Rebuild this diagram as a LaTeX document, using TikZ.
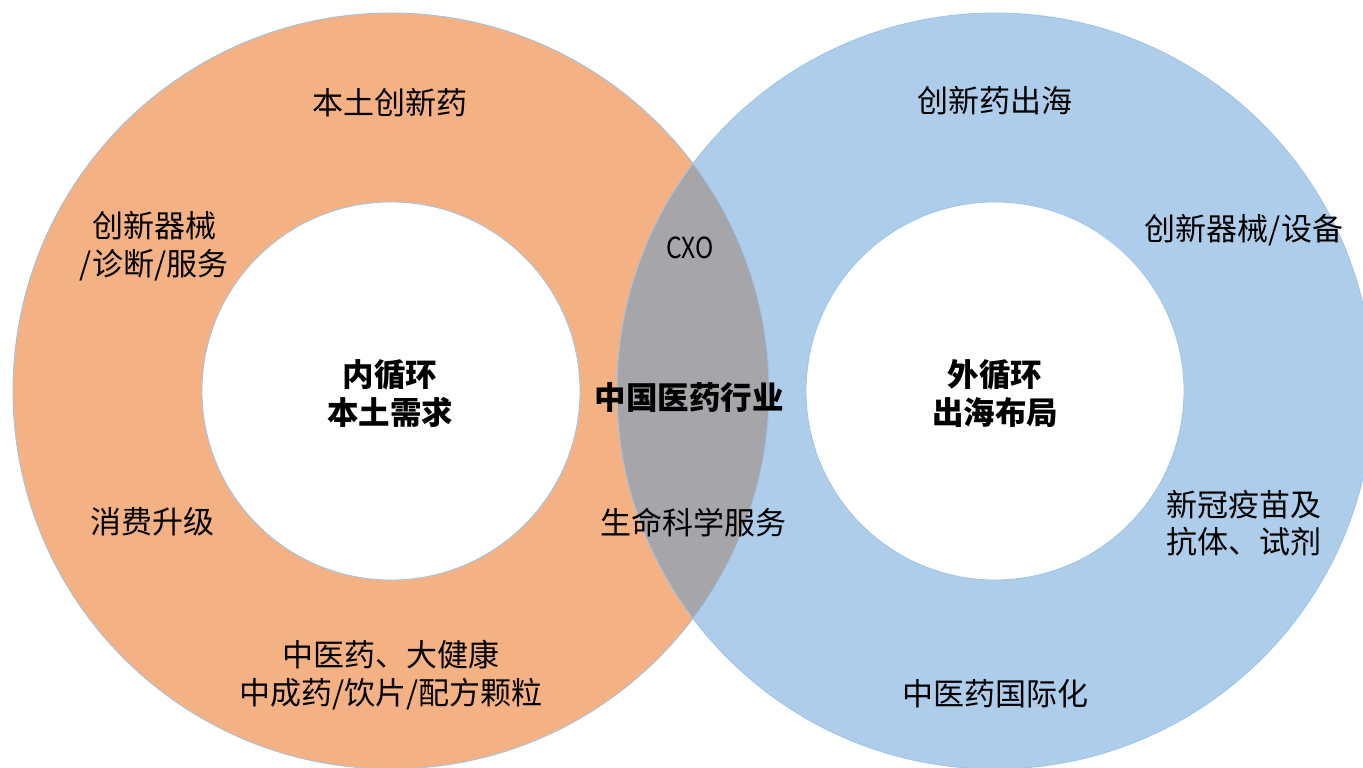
\documentclass[tikz,border=0pt]{standalone}
\usepackage{graphicx}
\usepackage{fontspec}
\newfontfamily\cjk{Noto Sans CJK SC}
\definecolor{orangeC}{HTML}{F4B183}
\definecolor{blueC}{HTML}{AECDEA}
\definecolor{greyC}{HTML}{A6A5AA}
\definecolor{edgeC}{HTML}{9DC3E6}
\begin{document}
\begin{tikzpicture}[x=1pt,y=1pt,
  edge/.style={draw=edgeC,line width=0.8pt},
  lbl/.style={font=\cjk\fontsize{31}{37.5}\selectfont,align=center,inner sep=0pt,text=black},
  blbl/.style={font=\cjk\bfseries\fontsize{31.5}{37.5}\selectfont,align=center,inner sep=0pt,text=black}]
\useasboundingbox (0,0) rectangle (1363,768);
\clip (0,0) rectangle (1363,768);
\fill[white] (0,0) rectangle (1363,768);
\coordinate (L) at (391,377);
\coordinate (R) at (995,377);
\fill[orangeC] (L) circle (378pt);
\fill[blueC] (R) circle (378pt);
\begin{scope}
  \clip (L) circle (378pt);
  \fill[greyC] (R) circle (378pt);
\end{scope}
\draw[edge] (L) circle (378pt);
\draw[edge] (R) circle (378pt);
\filldraw[fill=white,edge] (L) circle (189pt);
\filldraw[fill=white,edge] (R) circle (189pt);
% left ring labels
\node[lbl] (t1) at (390,665) {本土创新药};
\node[lbl] (t2) at (154,522) {创新器械\\/诊断/服务};
\node[lbl] (t3) at (152,246) {消费升级};
\node[lbl] (t4) at (391,93) {中医药、大健康\\中成药/饮片/配方颗粒};
\node[blbl] (c1) at (390,374.5) {内循环\\本土需求};
% overlap labels
\node[font=\cjk\fontsize{29}{30}\selectfont,inner sep=0pt] (o1) at (690,520) {\scalebox{0.85}[1]{CXO}};
\node[blbl] (o2) at (689,370) {中国医药行业};
\node[lbl] (o3) at (693,245) {生命科学服务};
% right ring labels
\node[lbl] (r1) at (995,667) {创新药出海};
\node[lbl] (r2) at (1244,538) {创新器械/设备};
\node[blbl] (c2) at (995,374.5) {外循环\\出海布局};
\node[lbl] (r3) at (1244,245) {新冠疫苗及\\抗体、试剂};
\node[lbl] (r4) at (995,74) {中医药国际化};
\end{tikzpicture}
\end{document}
